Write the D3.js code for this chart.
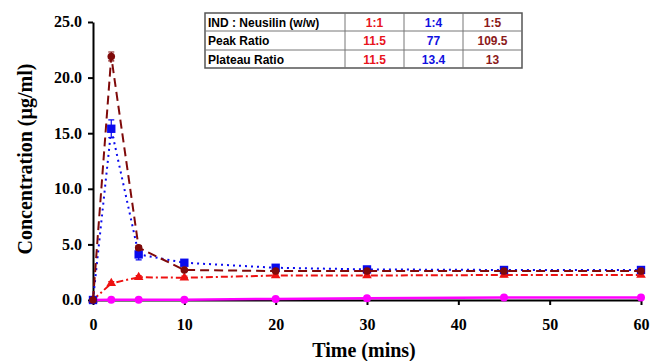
<!DOCTYPE html>
<html>
<head>
<meta charset="utf-8">
<script src="https://cdn.jsdelivr.net/npm/d3@7"></script>
<style>
  body { margin: 0; background: #fff; }
  svg text { font-family: "Liberation Serif", "Times New Roman", serif; font-weight: bold; }
</style>
</head>
<body>
<div id="chart"></div>
<script>
// Data
var times = [0, 2, 5, 10, 20, 30, 45, 60];
var ratio15 = [0, 21.9, 4.7, 2.7, 2.6, 2.6, 2.6, 2.6];
var ratio15Err = [0, 0.4, 0.2, 0.1, 0.1, 0.1, 0.1, 0.1];
var ratio14 = [0, 15.4, 4.1, 3.35, 2.9, 2.75, 2.7, 2.7];
var ratio14Err = [0, 0.8, 0.5, 0.15, 0.1, 0.1, 0.1, 0.1];
var ratio11 = [0, 1.5, 2.05, 2.0, 2.2, 2.2, 2.25, 2.25];
var ratio11Err = [0, 0.15, 0.15, 0.15, 0.15, 0.15, 0.15, 0.1];
var pureDrug = [0, 0.02, 0.02, 0.03, 0.1, 0.15, 0.22, 0.22];
var xTicks = [0, 10, 20, 30, 40, 50, 60];
var yTicks = [0, 5, 10, 15, 20, 25];

var tableRows = [
  ["IND : Neusilin (w/w)", "1:1", "1:4", "1:5"],
  ["Peak Ratio", "11.5", "77", "109.5"],
  ["Plateau Ratio", "11.5", "13.4", "13"]
];
var tableColors = ["#e8141c", "#1010e0", "#8b1a1a"];

var svgWidth = 650, svgHeight = 361;
var margin = {top: 22, right: 9, bottom: 61, left: 93};
var chartWidth = svgWidth - margin.left - margin.right;
var chartHeight = svgHeight - margin.top - margin.bottom;

var svg = d3.select("#chart").append("svg")
  .attr("width", svgWidth)
  .attr("height", svgHeight);

var g = svg.append("g")
  .attr("transform", "translate(" + margin.left + "," + margin.top + ")");

var x = d3.scaleLinear().domain([0, 60]).range([0, chartWidth]);
var y = d3.scaleLinear().domain([0, 25]).range([chartHeight, 0]);

// axes
var xAxis = g.append("g")
  .attr("transform", "translate(0," + chartHeight + ")")
  .call(d3.axisBottom(x).tickValues(xTicks).tickFormat(d3.format("d")).tickSize(5).tickSizeOuter(0));
var yAxis = g.append("g")
  .call(d3.axisLeft(y).tickValues(yTicks).tickFormat(d3.format(".1f")).tickSize(5).tickSizeOuter(0));

[xAxis, yAxis].forEach(function(a) {
  a.select(".domain").attr("stroke", "#000").attr("stroke-width", 2);
  a.selectAll(".tick line").attr("stroke", "#000").attr("stroke-width", 2);
  a.selectAll(".tick text").attr("fill", "#000").style("font-size", "16px");
});
xAxis.selectAll(".tick text").attr("dy", "1.35em");
yAxis.selectAll(".tick text").attr("x", -11).attr("dy", "0.3em");

// axis titles
svg.append("text")
  .attr("x", margin.left + chartWidth / 2 - 3)
  .attr("y", 357)
  .attr("text-anchor", "middle")
  .style("font-size", "20px")
  .text("Time (mins)");
svg.append("text")
  .attr("transform", "translate(32," + (margin.top + chartHeight / 2 - 2) + ") rotate(-90)")
  .attr("text-anchor", "middle")
  .style("font-size", "20px")
  .text("Concentration (µg/ml)");

// series
var series = [
  {vals: pureDrug, err: null, color: "#ff00ff", dash: null, marker: "circle"},
  {vals: ratio11, err: ratio11Err, color: "#ee1111", dash: "7,3,2,3", marker: "triangle"},
  {vals: ratio14, err: ratio14Err, color: "#0a0aee", dash: "2,4", marker: "square"},
  {vals: ratio15, err: ratio15Err, color: "#7f0a0a", dash: "9,5", marker: "diamond"}
];

var line = d3.line()
  .x(function(d) { return x(d[0]); })
  .y(function(d) { return y(d[1]); });

series.forEach(function(s) {
  var pts = times.map(function(t, i) { return [t, s.vals[i]]; });
  g.append("path")
    .datum(pts)
    .attr("fill", "none")
    .attr("stroke", s.color)
    .attr("stroke-width", s.dash ? 2 : 2.5)
    .attr("stroke-dasharray", s.dash)
    .attr("d", line);

  if (s.err) {
    g.selectAll(null).data(pts.slice(1)).enter().append("path")
      .attr("stroke", s.color)
      .attr("stroke-width", 1.2)
      .attr("fill", "none")
      .attr("d", function(d, i) {
        var e = s.err[i + 1], cx = x(d[0]);
        var y1 = y(d[1] + e), y2 = y(d[1] - e);
        return "M" + cx + "," + y1 + "V" + y2 +
          "M" + (cx - 3) + "," + y1 + "H" + (cx + 3) +
          "M" + (cx - 3) + "," + y2 + "H" + (cx + 3);
      });
  }

  var sym = {
    circle: d3.symbol().type(d3.symbolCircle).size(50),
    triangle: d3.symbol().type(d3.symbolTriangle).size(40),
    square: d3.symbol().type(d3.symbolSquare).size(70),
    diamond: d3.symbol().type(d3.symbolCircle).size(45)
  }[s.marker];

  g.selectAll(null).data(pts).enter().append("path")
    .attr("transform", function(d) { return "translate(" + x(d[0]) + "," + y(d[1]) + ")"; })
    .attr("fill", s.color)
    .attr("d", sym);
});

// table
var colX = [205, 345, 404, 463, 522];
var rowY = [13, 31, 50, 68];
var tg = svg.append("g");
tg.append("rect")
  .attr("x", colX[0]).attr("y", rowY[0])
  .attr("width", colX[4] - colX[0]).attr("height", rowY[3] - rowY[0])
  .attr("fill", "#fff").attr("stroke", "#555").attr("stroke-width", 1.5);
colX.slice(1, 4).forEach(function(cx) {
  tg.append("line").attr("x1", cx).attr("x2", cx).attr("y1", rowY[0]).attr("y2", rowY[3])
    .attr("stroke", "#777").attr("stroke-width", 1);
});
rowY.slice(1, 3).forEach(function(ry) {
  tg.append("line").attr("x1", colX[0]).attr("x2", colX[4]).attr("y1", ry).attr("y2", ry)
    .attr("stroke", "#777").attr("stroke-width", 1);
});
tableRows.forEach(function(row, ri) {
  row.forEach(function(cell, ci) {
    var first = ci === 0;
    tg.append("text")
      .attr("x", first ? colX[0] + 3 : (colX[ci] + colX[ci + 1]) / 2)
      .attr("y", rowY[ri] + 13.5)
      .attr("text-anchor", first ? "start" : "middle")
      .attr("fill", first ? "#000" : tableColors[ci - 1])
      .style("font-family", "'Liberation Sans', Arial, sans-serif")
      .style("font-size", "12px")
      .text(cell);
  });
});
</script>
</body>
</html>
